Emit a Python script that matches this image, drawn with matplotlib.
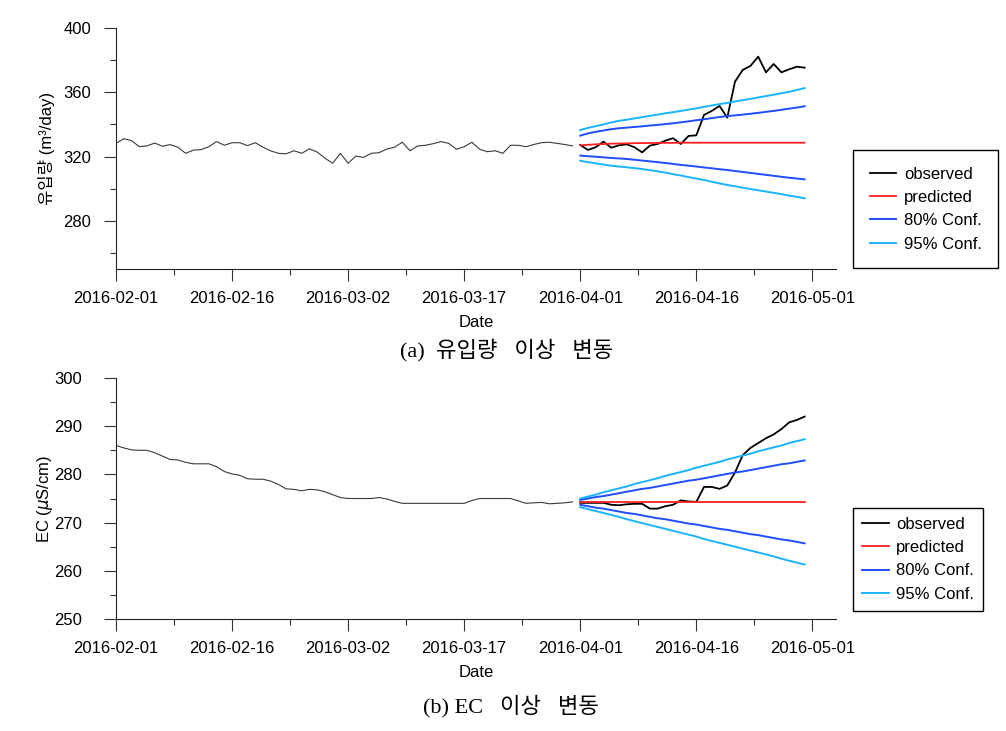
import matplotlib
matplotlib.use("Agg")
import matplotlib.pyplot as plt
import matplotlib.dates as mdates
import numpy as np
import pandas as pd
from matplotlib.ticker import FixedLocator, NullFormatter

plt.rcParams["font.family"] = ["Liberation Sans", "Noto Sans CJK KR"]
plt.rcParams["axes.unicode_minus"] = False

# ------------------------
# Data
# ------------------------

train_dates = pd.date_range("2016-02-01", "2016-03-31", freq="D")
test_dates = pd.date_range("2016-04-01", "2016-04-30", freq="D")

# (a) inflow, m3/day
inflow_train = [
    328.2, 331.1, 329.9, 326.2, 326.6, 328.4, 326.4, 327.4, 325.8, 322.0,
    324.0, 324.3, 326.1, 329.3, 327.0, 328.6, 328.6, 326.8, 328.6, 325.8,
    323.5, 322.0, 321.7, 323.6, 322.0, 324.8, 322.8, 319.0, 315.8, 322.0,
    315.8, 320.3, 319.5, 322.0, 322.4, 324.7, 325.8, 328.9, 323.6, 326.6,
    327.0, 328.0, 329.3, 328.2, 324.5, 326.1, 328.9, 324.5, 323.0, 323.6,
    322.0, 327.0, 327.0, 326.1, 327.5, 328.6, 328.9, 328.2, 327.5, 326.6,
]
inflow_obs = [
    327.2, 324.1, 325.8, 329.3, 325.5, 327.0, 327.6, 325.8, 322.6, 326.8,
    327.8, 329.9, 331.4, 327.8, 332.8, 333.2, 345.9, 348.4, 351.5, 344.2,
    366.6, 373.9, 376.4, 382.2, 372.4, 377.6, 372.4, 374.3, 375.9, 375.3,
]
inflow_pred = [
    327.0, 327.3, 327.6, 327.8, 328.0, 328.1, 328.2, 328.3, 328.4, 328.4,
    328.5, 328.5, 328.5, 328.6, 328.6, 328.6, 328.6, 328.6, 328.6, 328.6,
    328.6, 328.6, 328.6, 328.6, 328.6, 328.6, 328.6, 328.6, 328.6, 328.6,
]
inflow_up80 = [
    333.0, 334.4, 335.4, 336.2, 337.0, 337.6, 338.0, 338.4, 338.8, 339.3,
    339.7, 340.2, 340.7, 341.3, 341.9, 342.6, 343.2, 343.9, 344.6, 345.2,
    345.6, 346.1, 346.6, 347.2, 347.8, 348.4, 349.1, 349.8, 350.5, 351.3,
]
inflow_lo80 = [
    320.6, 320.2, 319.9, 319.5, 319.1, 318.8, 318.5, 318.0, 317.5, 317.0,
    316.5, 316.0, 315.4, 314.8, 314.3, 313.8, 313.2, 312.7, 312.1, 311.6,
    311.0, 310.4, 309.8, 309.2, 308.6, 308.0, 307.4, 306.8, 306.3, 305.8,
]
inflow_up95 = [
    336.5, 337.8, 338.9, 340.0, 341.2, 342.2, 342.9, 343.7, 344.5, 345.3,
    346.1, 346.9, 347.6, 348.4, 349.2, 350.0, 350.9, 351.8, 352.6, 353.4,
    354.3, 355.1, 355.9, 356.8, 357.6, 358.5, 359.4, 360.3, 361.4, 362.6,
]
inflow_lo95 = [
    317.4, 316.5, 315.8, 315.0, 314.3, 313.8, 313.3, 312.8, 312.2, 311.5,
    310.8, 310.0, 309.0, 308.2, 307.2, 306.3, 305.4, 304.3, 303.3, 302.3,
    301.5, 300.6, 299.8, 299.0, 298.2, 297.4, 296.6, 295.7, 294.9, 294.0,
]

# (b) EC, uS/cm
ec_train = [
    286.0, 285.5, 285.1, 285.0, 285.0, 284.5, 283.8, 283.1, 283.0, 282.5,
    282.2, 282.2, 282.2, 281.6, 280.6, 280.1, 279.8, 279.1, 279.0, 279.0,
    278.6, 277.9, 277.0, 276.9, 276.6, 276.9, 276.8, 276.4, 275.8, 275.2,
    275.0, 275.0, 275.0, 275.0, 275.2, 274.9, 274.4, 274.0, 274.0, 274.0,
    274.0, 274.0, 274.0, 274.0, 274.0, 274.0, 274.6, 275.0, 275.0, 275.0,
    275.0, 275.0, 274.5, 274.0, 274.1, 274.2, 273.9, 274.0, 274.1, 274.3,
]
ec_obs = [
    274.1, 274.1, 274.1, 274.1, 273.7, 273.6, 273.8, 273.9, 273.9, 272.9,
    272.9, 273.4, 273.7, 274.6, 274.4, 274.3, 277.4, 277.4, 277.0, 277.7,
    280.4, 284.0, 285.5, 286.5, 287.5, 288.3, 289.4, 290.8, 291.3, 292.0,
]
ec_pred = [274.3] * 30
ec_up80 = [
    274.7, 275.0, 275.3, 275.5, 275.8, 276.1, 276.4, 276.7, 277.0, 277.2,
    277.5, 277.8, 278.1, 278.4, 278.7, 278.9, 279.2, 279.5, 279.8, 280.1,
    280.4, 280.6, 280.9, 281.2, 281.5, 281.8, 282.1, 282.3, 282.6, 282.9,
]
ec_lo80 = [
    273.7, 273.4, 273.1, 272.9, 272.6, 272.3, 272.0, 271.8, 271.5, 271.2,
    270.9, 270.7, 270.4, 270.1, 269.8, 269.6, 269.3, 269.0, 268.7, 268.5,
    268.2, 267.9, 267.6, 267.4, 267.1, 266.8, 266.5, 266.3, 266.0, 265.7,
]
ec_up95 = [
    275.0, 275.4, 275.8, 276.3, 276.7, 277.1, 277.5, 278.0, 278.4, 278.8,
    279.2, 279.7, 280.1, 280.5, 280.9, 281.4, 281.8, 282.2, 282.6, 283.1,
    283.5, 283.9, 284.3, 284.8, 285.2, 285.6, 286.0, 286.5, 286.9, 287.3,
]
ec_lo95 = [
    273.2, 272.8, 272.4, 272.0, 271.6, 271.2, 270.7, 270.3, 269.9, 269.5,
    269.1, 268.7, 268.3, 267.9, 267.5, 267.1, 266.6, 266.2, 265.8, 265.4,
    265.0, 264.6, 264.2, 263.8, 263.4, 263.0, 262.5, 262.1, 261.7, 261.3,
]

tick_dates = pd.date_range("2016-02-01", periods=7, freq="15D")

COL_OBS = "black"
COL_PRED = "#ff2020"
COL_80 = "#1f4dff"
COL_95 = "#19b4ff"

FS = 12


def draw_panel(ax, train, obs, pred, lo80, up80, lo95, up95, ylim, yticks, yminor,
               legend_y, legend_pad, ypad):

    ax.plot(train_dates, train, color="#3a3a3a", linewidth=0.8)

    ax.plot(test_dates, obs, color=COL_OBS, linewidth=1.3, label="observed")
    ax.plot(test_dates, pred, color=COL_PRED, linewidth=1.3, label="predicted")
    ax.plot(test_dates, up80, color=COL_80, linewidth=1.4, label="80% Conf.")
    ax.plot(test_dates, lo80, color=COL_80, linewidth=1.4)
    ax.plot(test_dates, up95, color=COL_95, linewidth=1.4, label="95% Conf.")
    ax.plot(test_dates, lo95, color=COL_95, linewidth=1.4)

    # Axis settings
    ax.set_xlim(mdates.date2num(pd.Timestamp("2016-02-01")),
                mdates.date2num(pd.Timestamp("2016-05-04")))
    ax.set_ylim(*ylim)

    major = mdates.date2num(tick_dates)
    ax.xaxis.set_major_locator(FixedLocator(major))
    ax.xaxis.set_minor_locator(FixedLocator(major[:-1] + 7.5))
    ax.xaxis.set_major_formatter(mdates.DateFormatter("%Y-%m-%d"))
    ax.xaxis.set_minor_formatter(NullFormatter())

    ax.yaxis.set_major_locator(FixedLocator(yticks))
    ax.yaxis.set_minor_locator(FixedLocator(yminor))

    for side in ["top", "right"]:
        ax.spines[side].set_visible(False)
    for side in ["left", "bottom"]:
        ax.spines[side].set_linewidth(0.8)
        ax.spines[side].set_color("#222222")

    ax.tick_params(which="major", length=8.5, width=0.8, color="#333333",
                   labelsize=FS)
    ax.tick_params(which="minor", length=4, width=0.8, color="#333333")
    ax.tick_params(axis="x", which="major", pad=7)
    ax.tick_params(axis="y", which="major", pad=ypad)

    ax.set_xlabel("Date", fontsize=FS)
    ax.xaxis.set_label_coords(0.5, -0.19)

    ax.legend(
        loc="center left",
        bbox_to_anchor=(0.848, legend_y),
        bbox_transform=ax.figure.transFigure,
        fontsize=FS,
        frameon=True,
        fancybox=False,
        edgecolor="black",
        framealpha=1,
        handlelength=1.6,
        labelspacing=0.5,
        borderpad=legend_pad,
        handletextpad=0.45,
        borderaxespad=0,
    )


fig = plt.figure(figsize=(10.06, 7.31), dpi=100)

ax1 = fig.add_axes([0.1153, 0.632, 0.7153, 0.3297])
ax2 = fig.add_axes([0.1153, 0.1532, 0.7153, 0.3297])

draw_panel(ax1, inflow_train, inflow_obs, inflow_pred, inflow_lo80, inflow_up80,
           inflow_lo95, inflow_up95, (250, 400), [280, 320, 360, 400],
           [260, 300, 340, 380], 0.714, 1.0, 9.5)
draw_panel(ax2, ec_train, ec_obs, ec_pred, ec_lo80, ec_up80,
           ec_lo95, ec_up95, (250, 300), [250, 260, 270, 280, 290, 300],
           [255, 265, 275, 285, 295], 0.235, 0.55, 16)

ax1.set_ylabel("유입량 (m³/day)", fontsize=FS)
ax2.set_ylabel(r"EC ($\mu$S/cm)", fontsize=FS)
ax1.yaxis.set_label_coords(-0.085, 0.5)
ax2.yaxis.set_label_coords(-0.085, 0.5)

cap_font = ["Liberation Serif", "Noto Sans CJK KR"]
fig.text(0.504, 0.521, "(a)  유입량   이상   변동", ha="center", va="center",
         fontsize=16, family=cap_font)
fig.text(0.508, 0.034, "(b) EC   이상   변동", ha="center", va="center",
         fontsize=16, family=cap_font)

fig.savefig("out.png", dpi=100)
